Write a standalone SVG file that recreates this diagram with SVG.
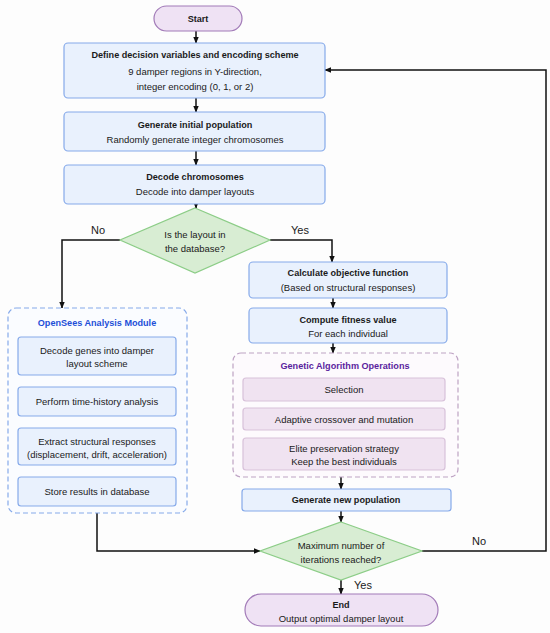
<svg xmlns="http://www.w3.org/2000/svg" width="550" height="633" viewBox="0 0 550 633">
<style>
text{font-family:"Liberation Sans",Arial,sans-serif;font-size:9.5px;fill:#1a1a1a;text-anchor:middle;dominant-baseline:central}
.b{font-weight:bold;font-size:9.1px}
.lbl{font-size:11px}
.blue{fill:#e9f1fd;stroke:#86aaea;stroke-width:1.2}
.pill{fill:#efe2f4;stroke:#a27bb8;stroke-width:1.2}
.dia{fill:#d8edd3;stroke:#8ccd87;stroke-width:1.2}
.pur{fill:#f0e3f1;stroke:#d8c1da;stroke-width:1.2}
.cb{fill:#fafcff;stroke:#86aaea;stroke-width:1.2;stroke-dasharray:5 3}
.cp{fill:#fdfafd;stroke:#bea3c4;stroke-width:1.2;stroke-dasharray:5 3}
.c{fill:none;stroke:#111;stroke-width:1.5}
</style>
<defs>
<marker id="ah" viewBox="0 0 10 10" refX="9" refY="5" markerWidth="7" markerHeight="7" markerUnits="userSpaceOnUse" orient="auto">
<path d="M0,1 L10,5 L0,9 Z" fill="#111"/>
</marker>
</defs>
<rect width="550" height="633" fill="#fdfdfd"/>
<g id="connectors">
<path class="c" d="M196,31 V43" marker-end="url(#ah)"/>
<path class="c" d="M196,98 V112" marker-end="url(#ah)"/>
<path class="c" d="M196,151 V165" marker-end="url(#ah)"/>
<path class="c" d="M196,204 V208" marker-end="url(#ah)"/>
<path class="c" d="M120,240 H62 V308" marker-end="url(#ah)"/>
<path class="c" d="M270,240 H332 V262" marker-end="url(#ah)"/>
<path class="c" d="M333,298 V308" marker-end="url(#ah)"/>
<path class="c" d="M333,343 V353" marker-end="url(#ah)"/>
<path class="c" d="M341,477 V489" marker-end="url(#ah)"/>
<path class="c" d="M341,511 V522" marker-end="url(#ah)"/>
<path class="c" d="M341,580 V594" marker-end="url(#ah)"/>
<path class="c" d="M96,375 V387" marker-end="url(#ah)"/>
<path class="c" d="M96,416 V428" marker-end="url(#ah)"/>
<path class="c" d="M96,465 V477" marker-end="url(#ah)"/>
<path class="c" d="M341,401 V408" marker-end="url(#ah)"/>
<path class="c" d="M341,430 V438" marker-end="url(#ah)"/>
<path class="c" d="M97,513 V551 H260" marker-end="url(#ah)"/>
<path class="c" d="M422,551 H546 V70 H325" marker-end="url(#ah)"/>
<text class="lbl" x="98" y="230">No</text>
<text class="lbl" x="300" y="230">Yes</text>
<text class="lbl" x="479" y="541">No</text>
<text class="lbl" x="363" y="585">Yes</text>
</g>
<g id="start"><rect class="pill" x="154" y="6" width="88" height="25" rx="12.5"/><text class="b" x="198" y="18.5">Start</text></g>
<g id="define"><rect class="blue" x="64" y="43" width="261" height="55" rx="4"/>
<text class="b" x="195" y="55">Define decision variables and encoding scheme</text>
<text x="195" y="71">9 damper regions in Y-direction,</text>
<text x="195" y="86">integer encoding (0, 1, or 2)</text></g>
<g id="initpop"><rect class="blue" x="64" y="112" width="261" height="39" rx="4"/>
<text class="b" x="195" y="125">Generate initial population</text>
<text x="195" y="139">Randomly generate integer chromosomes</text></g>
<g id="decode"><rect class="blue" x="64" y="165" width="261" height="39" rx="4"/>
<text class="b" x="195" y="177">Decode chromosomes</text>
<text x="195" y="191">Decode into damper layouts</text></g>
<g id="indb"><polygon class="dia" points="195,208 270,240 195,273 120,240"/>
<text x="195" y="234">Is the layout in</text>
<text x="195" y="248">the database?</text></g>
<g id="opensees"><rect class="cb" x="8" y="308" width="179" height="205" rx="8"/>
<text class="b" x="97" y="323" style="fill:#1d4fd8">OpenSees Analysis Module</text></g>
<g id="os1"><rect class="blue" x="18" y="337" width="158" height="38" rx="3"/>
<text x="97" y="350">Decode genes into damper</text>
<text x="97" y="363">layout scheme</text></g>
<g id="os2"><rect class="blue" x="18" y="387" width="158" height="29" rx="3"/>
<text x="97" y="401.5">Perform time-history analysis</text></g>
<g id="os3"><rect class="blue" x="18" y="428" width="158" height="37" rx="3"/>
<text x="97" y="441">Extract structural responses</text>
<text x="97" y="454">(displacement, drift, acceleration)</text></g>
<g id="os4"><rect class="blue" x="18" y="477" width="158" height="29" rx="3"/>
<text x="97" y="491.5">Store results in database</text></g>
<g id="calc"><rect class="blue" x="249" y="262" width="198" height="36" rx="4"/>
<text class="b" x="348" y="273">Calculate objective function</text>
<text x="348" y="287">(Based on structural responses)</text></g>
<g id="fitness"><rect class="blue" x="249" y="308" width="198" height="35" rx="4"/>
<text class="b" x="348" y="320">Compute fitness value</text>
<text x="348" y="333">For each individual</text></g>
<g id="ga"><rect class="cp" x="233" y="353" width="225" height="124" rx="8"/>
<text class="b" x="345" y="366" style="fill:#5a1f9e">Genetic Algorithm Operations</text></g>
<g id="selection"><rect class="pur" x="243" y="378" width="202" height="23" rx="3"/>
<text x="344" y="389.5">Selection</text></g>
<g id="crossover"><rect class="pur" x="243" y="408" width="202" height="22" rx="3"/>
<text x="344" y="419">Adaptive crossover and mutation</text></g>
<g id="elite"><rect class="pur" x="243" y="438" width="202" height="32" rx="3"/>
<text x="344" y="448">Elite preservation strategy</text>
<text x="344" y="461">Keep the best individuals</text></g>
<g id="newpop"><rect class="blue" x="242" y="489" width="209" height="22" rx="3"/>
<text class="b" x="346" y="500">Generate new population</text></g>
<g id="maxiter"><polygon class="dia" points="341,522 422,551 341,580 260,551"/>
<text x="341" y="545">Maximum number of</text>
<text x="341" y="559">iterations reached?</text></g>
<g id="end"><rect class="pill" x="245" y="594" width="193" height="32" rx="16"/>
<text class="b" x="341" y="605">End</text>
<text x="341" y="618">Output optimal damper layout</text></g>
</svg>
